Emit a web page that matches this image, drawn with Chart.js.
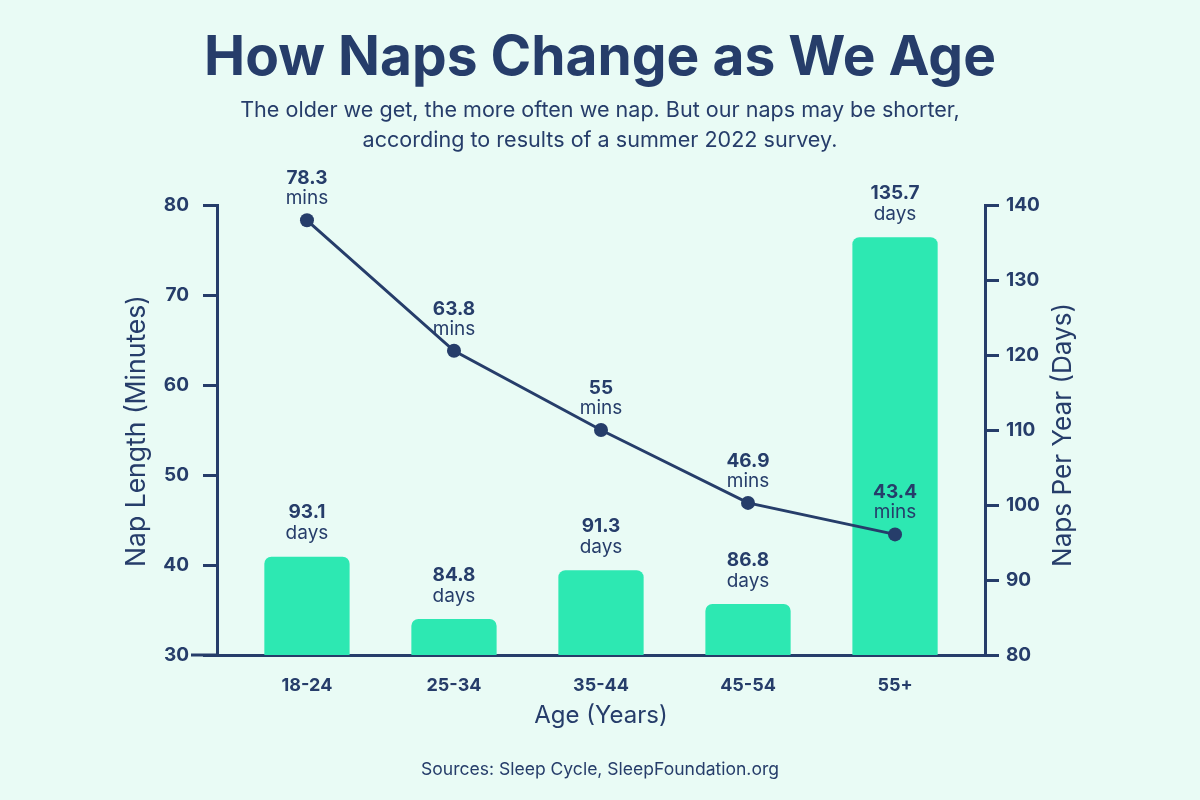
<!DOCTYPE html>
<html>
<head>
<meta charset="utf-8">
<script src="https://cdn.jsdelivr.net/npm/chart.js@4.4.0/dist/chart.umd.min.js"></script>
<style>
html, body { margin: 0; padding: 0; background: #e9fbf5; }
#wrap { width: 1200px; height: 800px; }
</style>
</head>
<body>
<div id="wrap"><canvas id="myChart" width="1200" height="800"></canvas></div>
<script>
// DATA
const categories = ['18-24', '25-34', '35-44', '45-54', '55+'];
const napMinutes = [78.3, 63.8, 55, 46.9, 43.4];
const napDays = [93.1, 84.8, 91.3, 86.8, 135.7];
const leftTicks = [30, 40, 50, 60, 70, 80];
const rightTicks = [80, 90, 100, 110, 120, 130, 140];

const titleText = 'How Naps Change as We Age';
const subtitleLines = [
    'The older we get, the more often we nap. But our naps may be shorter,',
    'according to results of a summer 2022 survey.'
];
const sourceText = 'Sources: Sleep Cycle, SleepFoundation.org';

// STYLE
const navy = '#263d6a';
const green = '#2de8b2';
const fontFamily = 'Inter, "Noto Sans", sans-serif';

// règle la taille de police pour une largeur donnée
function fitFont(ctx, text, weight, width) {
    ctx.font = `${weight} 20px ${fontFamily}`;
    const size = 20 * width / ctx.measureText(text).width;
    ctx.font = `${weight} ${size.toFixed(2)}px ${fontFamily}`;
    return size;
}

const textPlugin = {
    id: 'texts',
    afterDatasetsDraw(chart) {
        const ctx = chart.ctx;
        ctx.save();
        ctx.fillStyle = navy;
        ctx.textAlign = 'center';
        ctx.textBaseline = 'middle';

        // étiquettes des barres
        const barMeta = chart.getDatasetMeta(0);
        barMeta.data.forEach((bar, i) => {
            ctx.font = `700 19px ${fontFamily}`;
            ctx.fillText(String(napDays[i]), bar.x, bar.y - 44);
            ctx.font = `400 19px ${fontFamily}`;
            ctx.fillText('days', bar.x, bar.y - 23);
        });

        // étiquettes de la ligne
        const lineMeta = chart.getDatasetMeta(1);
        lineMeta.data.forEach((pt, i) => {
            ctx.font = `700 19px ${fontFamily}`;
            ctx.fillText(String(napMinutes[i]), pt.x, pt.y - 42);
            ctx.font = `400 19px ${fontFamily}`;
            ctx.fillText('mins', pt.x, pt.y - 22);
        });
        ctx.restore();
    },
    afterDraw(chart) {
        const ctx = chart.ctx;
        const area = chart.chartArea;
        ctx.save();
        ctx.fillStyle = navy;
        ctx.textAlign = 'center';
        ctx.textBaseline = 'middle';

        // ligne de l'axe x prolongée sous le 30
        ctx.strokeStyle = navy;
        ctx.lineWidth = 3;
        ctx.beginPath();
        ctx.moveTo(area.left - 26, area.bottom);
        ctx.lineTo(area.left, area.bottom);
        ctx.stroke();

        fitFont(ctx, titleText, 700, 792);
        ctx.fillText(titleText, 600, 58);

        fitFont(ctx, subtitleLines[0], 400, 720);
        ctx.fillText(subtitleLines[0], 600, 111);
        ctx.fillText(subtitleLines[1], 600, 141);

        ctx.font = `400 24px ${fontFamily}`;
        ctx.fillText('Age (Years)', (area.left + area.right) / 2, 716);

        ctx.save();
        fitFont(ctx, 'Nap Length (Minutes)', 400, 272);
        ctx.translate(137, 431);
        ctx.rotate(-Math.PI / 2);
        ctx.fillText('Nap Length (Minutes)', 0, 0);
        ctx.restore();

        ctx.save();
        fitFont(ctx, 'Naps Per Year (Days)', 400, 264);
        ctx.translate(1063, 435);
        ctx.rotate(-Math.PI / 2);
        ctx.fillText('Naps Per Year (Days)', 0, 0);
        ctx.restore();

        fitFont(ctx, sourceText, 400, 358);
        ctx.fillText(sourceText, 600, 770);
        ctx.restore();
    }
};

// CHART
const ctx = document.getElementById('myChart');
new Chart(ctx, {
    type: 'bar',
    data: {
        datasets: [{
            type: 'bar',
            label: 'Naps Per Year (Days)',
            data: napDays.map((v, i) => ({ x: i, y: v })),
            backgroundColor: green,
            borderRadius: { topLeft: 7, topRight: 7 },
            borderSkipped: 'bottom',
            barPercentage: 0.58,
            categoryPercentage: 1,
            xAxisID: 'x',
            yAxisID: 'yRight',
            order: 2
        }, {
            type: 'line',
            label: 'Nap Length (Minutes)',
            data: napMinutes.map((v, i) => ({ x: i, y: v })),
            borderColor: navy,
            backgroundColor: navy,
            borderWidth: 3,
            pointRadius: 7,
            pointBackgroundColor: navy,
            pointBorderWidth: 0,
            tension: 0,
            xAxisID: 'x',
            yAxisID: 'yLeft',
            order: 1
        }]
    },
    options: {
        responsive: false,
        animation: false,
        layout: { padding: { top: 205, left: 0, right: 0, bottom: 0 } },
        plugins: {
            legend: { display: false },
            tooltip: { enabled: false }
        },
        scales: {
            x: {
                type: 'linear',
                offset: false,
                min: -0.612,
                max: 4.612,
                afterBuildTicks: scale => {
                    scale.ticks = categories.map((c, i) => ({ value: i }));
                },
                afterFit: scale => { scale.height = 145; },
                grid: { display: false },
                border: { display: true, color: navy, width: 3 },
                ticks: {
                    color: navy,
                    padding: 12,
                    font: { family: fontFamily, size: 18, weight: '700' },
                    callback: v => categories[v]
                }
            },
            yLeft: {
                position: 'left',
                min: 30,
                max: 80,
                afterBuildTicks: scale => {
                    scale.ticks = leftTicks.map(v => ({ value: v }));
                },
                afterFit: scale => { scale.width = 217; },
                grid: {
                    drawOnChartArea: false,
                    drawTicks: true,
                    tickLength: 14,
                    color: navy,
                    lineWidth: 3
                },
                border: { display: true, color: navy, width: 3 },
                ticks: {
                    color: navy,
                    padding: 14,
                    font: { family: fontFamily, size: 19, weight: '700' }
                }
            },
            yRight: {
                position: 'right',
                min: 80,
                max: 140,
                afterBuildTicks: scale => {
                    scale.ticks = rightTicks.map(v => ({ value: v }));
                },
                afterFit: scale => { scale.width = 215; },
                grid: {
                    drawOnChartArea: false,
                    drawTicks: true,
                    tickLength: 14,
                    color: navy,
                    lineWidth: 3
                },
                border: { display: true, color: navy, width: 3 },
                ticks: {
                    color: navy,
                    padding: 7,
                    font: { family: fontFamily, size: 19, weight: '700' }
                }
            }
        }
    },
    plugins: [textPlugin]
});
</script>
</body>
</html>
